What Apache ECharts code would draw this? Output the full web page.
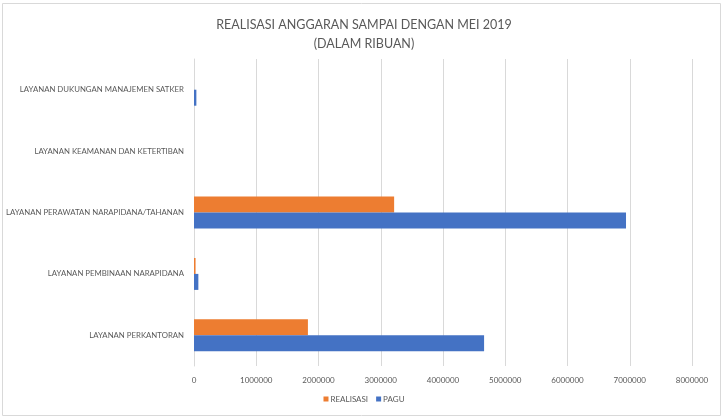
<!DOCTYPE html>
<html>
<head>
    <meta charset="utf-8">
    <title>Realisasi Anggaran</title>
    <script type="text/javascript" src="https://cdn.jsdelivr.net/npm/echarts@6/dist/echarts.min.js"></script>
    <style>
        html, body { margin: 0; padding: 0; background: #fff; }
        #chart { width: 728px; height: 419px; }
    </style>
</head>
<body>
    <div id="chart"></div>

    <script type="text/javascript">
        // kategori (dari bawah ke atas, seperti di Excel)
        var kategori = [
            'LAYANAN PERKANTORAN',
            'LAYANAN PEMBINAAN NARAPIDANA',
            'LAYANAN PERAWATAN NARAPIDANA/TAHANAN',
            'LAYANAN KEAMANAN DAN KETERTIBAN',
            'LAYANAN DUKUNGAN MANAJEMEN SATKER'
        ];
        var realisasi = [1830000, 25000, 3215000, 0, 0];
        var pagu = [4660000, 70000, 6940000, 0, 38000];
        var sumbuX = [0, 1000000, 2000000, 3000000, 4000000, 5000000, 6000000, 7000000, 8000000];

        var teks = '#595959';
        var chart = echarts.init(document.getElementById('chart'));
        chart.setOption({
            animation: false,
            textStyle: { fontFamily: 'Lato' },
            title: {
                text: 'REALISASI ANGGARAN SAMPAI DENGAN MEI 2019\n(DALAM RIBUAN)',
                left: 'center',
                top: 10,
                textStyle: {
                    color: teks,
                    fontSize: 12.5,
                    fontWeight: 'normal',
                    lineHeight: 19,
                    fontFamily: 'Lato'
                }
            },
            graphic: [{
                type: 'rect',
                shape: { x: 2.5, y: 3.5, width: 718, height: 412 },
                style: { fill: null, stroke: '#d9d9d9', lineWidth: 1 },
                silent: true
            }],
            legend: {
                data: ['REALISASI', 'PAGU'],
                bottom: 11,
                left: 'center',
                icon: 'rect',
                itemWidth: 5,
                itemHeight: 5,
                itemGap: 8,
                textStyle: { color: teks, fontSize: 8, padding: [0, 0, 0, -3] }
            },
            grid: {
                left: 194,
                right: 36,
                top: 59,
                bottom: 53,
                containLabel: false
            },
            xAxis: {
                type: 'value',
                min: sumbuX[0],
                max: sumbuX[sumbuX.length - 1],
                interval: 1000000,
                axisLine: { show: false },
                axisTick: { show: false },
                splitLine: { show: true, lineStyle: { color: '#d9d9d9', width: 1 } },
                axisLabel: {
                    color: teks,
                    fontSize: 8,
                    margin: 10,
                    formatter: function (v) { return String(v); }
                }
            },
            yAxis: {
                type: 'category',
                data: kategori,
                axisLine: { show: true, lineStyle: { color: '#d9d9d9' } },
                axisTick: { show: false },
                axisLabel: { color: teks, fontSize: 7.8, margin: 10 }
            },
            series: [
                {
                    name: 'REALISASI',
                    type: 'bar',
                    data: realisasi,
                    barWidth: 16,
                    barGap: '0%',
                    itemStyle: { color: '#ed7d31' }
                },
                {
                    name: 'PAGU',
                    type: 'bar',
                    data: pagu,
                    barWidth: 16,
                    barGap: '0%',
                    itemStyle: { color: '#4472c4' }
                }
            ]
        });
    </script>
</body>
</html>
